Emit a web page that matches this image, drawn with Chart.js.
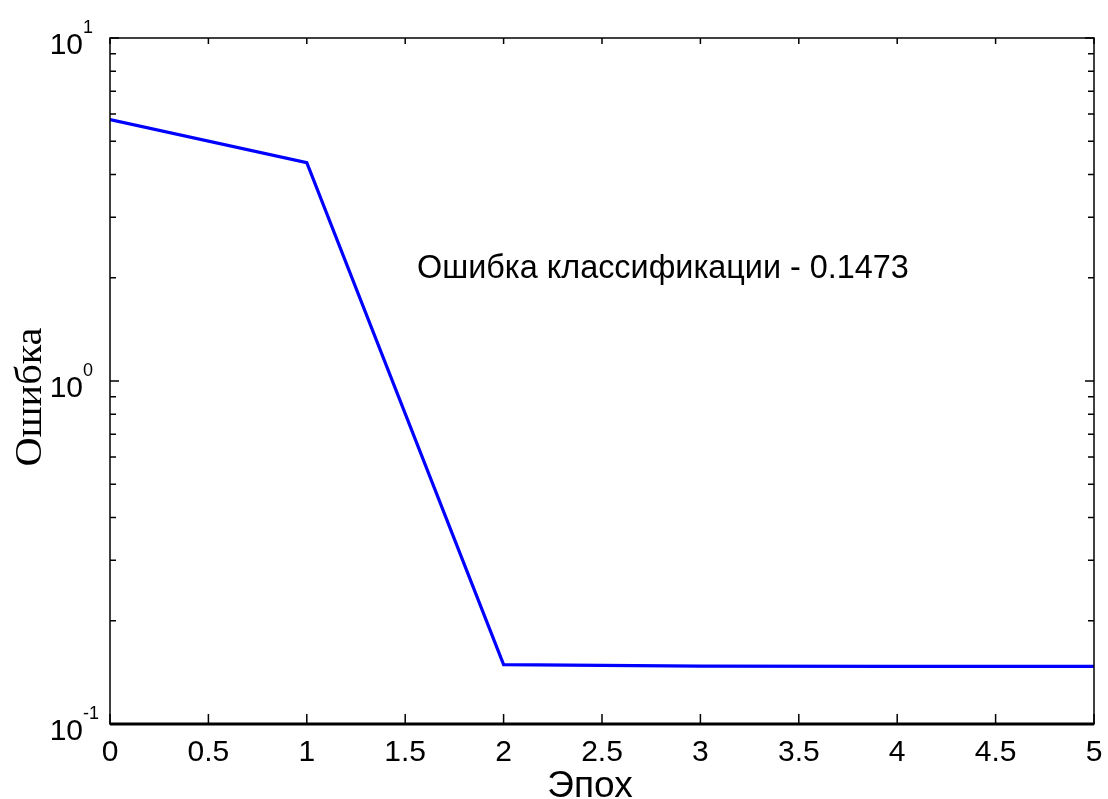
<!DOCTYPE html>
<html>
<head>
<meta charset="utf-8">
<script src="https://cdn.jsdelivr.net/npm/chart.js@4/dist/chart.umd.min.js"></script>
<style>
    body { margin: 0; background: #fff; }
    #chart { display: block; }
</style>
</head>
<body>
<canvas id="chart" width="1108" height="799"></canvas>
<script>
// Data
const epochs = [0, 1, 2, 3, 4, 5];
const errorValues = [5.78, 4.33, 0.149, 0.1475, 0.1473, 0.1473];
const goalValues = [0.1, 0.1, 0.1, 0.1, 0.1, 0.1];
const xTickValues = [0, 0.5, 1, 1.5, 2, 2.5, 3, 3.5, 4, 4.5, 5];
const yDecades = [0.1, 1, 10];
const yExponents = ['-1', '0', '1'];
const xTitle = 'Эпох';
const yTitle = 'Ошибка';
const noteText = 'Ошибка классификации - 0.1473';

const sans = '"Liberation Sans", Arial, sans-serif';
const serif = '"Liberation Serif", "Times New Roman", serif';

// box, inward ticks, log labels and titles
const frame = {
    id: 'frame',
    afterDraw(chart) {
        const ctx = chart.ctx;
        const a = chart.chartArea;
        const xs = chart.scales.x;
        const ys = chart.scales.y;
        ctx.save();
        ctx.strokeStyle = '#000';
        ctx.lineWidth = 1.5;
        ctx.strokeRect(a.left, a.top, a.right - a.left, a.bottom - a.top);

        ctx.beginPath();
        xTickValues.forEach(v => {
            const px = xs.getPixelForValue(v);
            ctx.moveTo(px, a.bottom); ctx.lineTo(px, a.bottom - 10);
            ctx.moveTo(px, a.top); ctx.lineTo(px, a.top + 6);
        });
        for (let d = 0; d < yDecades.length; d++) {
            const base = yDecades[d];
            const py = ys.getPixelForValue(base);
            ctx.moveTo(a.left, py); ctx.lineTo(a.left + 9, py);
            ctx.moveTo(a.right, py); ctx.lineTo(a.right - 9, py);
            if (d < yDecades.length - 1) {
                for (let m = 2; m <= 9; m++) {
                    const my = ys.getPixelForValue(base * m);
                    ctx.moveTo(a.left, my); ctx.lineTo(a.left + 6, my);
                    ctx.moveTo(a.right, my); ctx.lineTo(a.right - 6, my);
                }
            }
        }
        ctx.stroke();

        // y labels 10^n
        ctx.fillStyle = '#000';
        ctx.textBaseline = 'alphabetic';
        yDecades.forEach((v, i) => {
            const py = ys.getPixelForValue(v);
            ctx.font = '30px ' + sans;
            ctx.textAlign = 'right';
            ctx.fillText('10', 83, py + 15.5);
            ctx.font = '18px ' + sans;
            ctx.textAlign = 'left';
            ctx.fillText(yExponents[i], 83, py - 5);
        });

        // x title
        ctx.font = '37px ' + sans;
        ctx.textAlign = 'center';
        ctx.fillText(xTitle, 590, 797);

        // y title, serif, rotated
        ctx.save();
        ctx.font = '37px ' + serif;
        const w = ctx.measureText(yTitle).width;
        ctx.translate(41, 397);
        ctx.rotate(-Math.PI / 2);
        ctx.scale(139 / w, 1);
        ctx.textAlign = 'center';
        ctx.fillText(yTitle, 0, 0);
        ctx.restore();

        // note
        ctx.font = '32.4px ' + sans;
        ctx.textAlign = 'left';
        ctx.fillText(noteText, 417, 278);
        ctx.restore();
    }
};

new Chart(document.getElementById('chart'), {
    type: 'line',
    data: {
        datasets: [
            {
                data: epochs.map((x, i) => ({ x: x, y: errorValues[i] })),
                borderColor: '#0000ff',
                borderWidth: 3.2,
                pointRadius: 0,
                tension: 0
            },
            {
                data: epochs.map((x, i) => ({ x: x, y: goalValues[i] })),
                borderColor: '#000',
                borderWidth: 3,
                pointRadius: 0,
                clip: false
            }
        ]
    },
    options: {
        responsive: false,
        animation: false,
        layout: { padding: { top: 38, right: 14, left: 0, bottom: 0 } },
        plugins: { legend: { display: false }, tooltip: { enabled: false } },
        scales: {
            x: {
                type: 'linear',
                min: 0,
                max: 5,
                grid: { display: false, drawTicks: false },
                border: { display: false },
                afterBuildTicks: s => { s.ticks = xTickValues.map(v => ({ value: v })); },
                ticks: {
                    color: '#000',
                    font: { family: sans, size: 30 },
                    padding: 11,
                    maxRotation: 0,
                    autoSkip: false,
                    callback: v => String(v)
                },
                afterFit: s => {
                    s.height = 75;
                    s.paddingLeft = 0;
                    s.paddingRight = 0;
                }
            },
            y: {
                type: 'logarithmic',
                min: 0.1,
                max: 10,
                grid: { display: false, drawTicks: false },
                border: { display: false },
                ticks: { display: false },
                afterFit: s => { s.width = 110; }
            }
        }
    },
    plugins: [frame]
});
</script>
</body>
</html>
